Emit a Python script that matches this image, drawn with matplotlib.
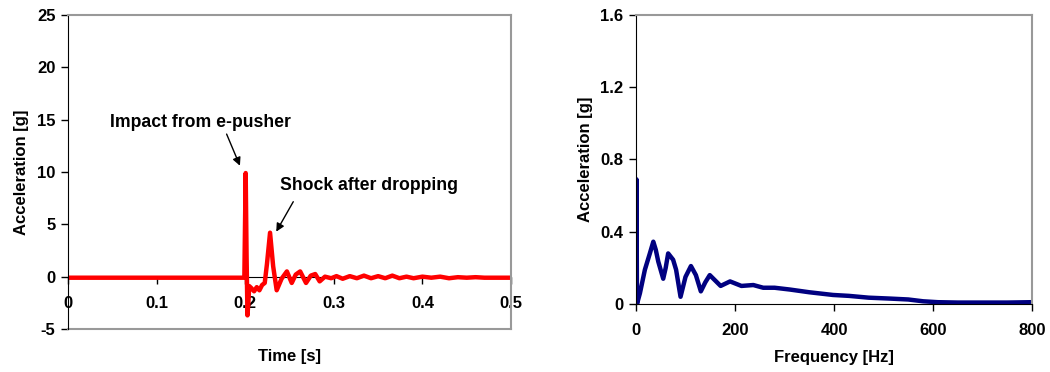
import matplotlib.pyplot as plt
import numpy as np

plt.rcParams['font.family'] = ['Liberation Sans', 'DejaVu Sans']
plt.rcParams['font.weight'] = 'bold'
plt.rcParams['axes.unicode_minus'] = False

# time signal
time_s = [0.0, 0.05, 0.1, 0.15, 0.199, 0.2005, 0.2015, 0.2025, 0.2035, 0.2045,
          0.207, 0.21, 0.213, 0.216, 0.219, 0.222, 0.2245, 0.228, 0.2315,
          0.2355, 0.241, 0.247, 0.2525, 0.257, 0.262, 0.2686, 0.274, 0.279,
          0.284, 0.29, 0.297, 0.303, 0.31, 0.318, 0.326, 0.334, 0.342, 0.35,
          0.358, 0.366, 0.374, 0.382, 0.39, 0.40, 0.41, 0.42, 0.43, 0.44,
          0.45, 0.46, 0.47, 0.48, 0.49, 0.5]
accel_g = [-0.1, -0.1, -0.1, -0.1, -0.1, 9.9, 2.0, -3.7, -2.5, -0.9,
           -1.1, -1.4, -1.0, -1.3, -0.8, -0.6, 1.2, 4.2, 1.0,
           -1.3, -0.2, 0.5, -0.6, 0.2, 0.5, -0.6, 0.1, 0.25,
           -0.45, 0.0, -0.15, 0.05, -0.2, 0.05, -0.15, 0.1, -0.15, 0.05,
           -0.15, 0.1, -0.15, 0.0, -0.15, 0.0, -0.1, 0.0, -0.15, -0.05,
           -0.1, -0.05, -0.1, -0.1, -0.1, -0.1]

# spectrum
freq_hz = [0, 1, 2, 8, 18, 28, 35, 40, 45, 55, 60, 65, 75, 81, 90, 100, 111,
           121, 131, 140, 149, 160, 171, 190, 213, 237, 257, 280, 311, 350,
           398, 430, 470, 513, 550, 580, 610, 650, 700, 750, 800]
amp_g = [0.0, 0.69, 0.0, 0.06, 0.19, 0.28, 0.345, 0.30, 0.235, 0.14, 0.20,
         0.28, 0.245, 0.19, 0.04, 0.15, 0.21, 0.16, 0.07, 0.12, 0.16, 0.13,
         0.10, 0.125, 0.10, 0.105, 0.09, 0.09, 0.08, 0.065, 0.05, 0.045,
         0.035, 0.03, 0.025, 0.015, 0.01, 0.008, 0.008, 0.008, 0.01]

fig = plt.figure(figsize=(10.5, 3.72), dpi=100)
ax1 = fig.add_axes([0.0648, 0.1156, 0.4219, 0.8441])
ax2 = fig.add_axes([0.6057, 0.1828, 0.3772, 0.7769])

frame = '#999999'
for ax in (ax1, ax2):
    for side in ('top', 'right'):
        ax.spines[side].set_color(frame)
        ax.spines[side].set_linewidth(1.5)
    ax.spines['left'].set_color('black')
    ax.spines['bottom'].set_color('black')
    ax.tick_params(direction='out', length=5, width=1, labelsize=12, pad=4)

# left panel
ax1.plot(time_s, accel_g, color='#ff0000', lw=3.2, solid_joinstyle='round')
ax1.set_xlim(0, 0.5)
ax1.set_ylim(-5, 25)
ax1.set_yticks([-5, 0, 5, 10, 15, 20, 25])
ax1.set_xticks([0, 0.1, 0.2, 0.3, 0.4, 0.5])
ax1.set_xticklabels(['0', '0.1', '0.2', '0.3', '0.4', '0.5'])
ax1.spines['bottom'].set_position(('data', 0))
ax1.spines['bottom'].set_zorder(1)
ax1.tick_params(axis='x', pad=9)
ax1.plot([0, 1], [0, 0], transform=ax1.transAxes, color=frame, lw=1.5,
         clip_on=False)
ax1.set_ylabel('Acceleration [g]', fontsize=12, fontweight='bold', labelpad=6)
ax1.set_xlabel('Time [s]', fontsize=12, fontweight='bold', labelpad=27)

ax1.annotate('Impact from e-pusher', xy=(0.194, 10.6), xytext=(0.047, 14.7),
             fontsize=12.7, fontweight='bold', va='center', ha='left',
             arrowprops=dict(arrowstyle='-|>', color='black', lw=1,
                             mutation_scale=12,
                             shrinkA=0, shrinkB=0, relpos=(0.64, 0.0)))
ax1.annotate('Shock after dropping', xy=(0.235, 4.3), xytext=(0.239, 8.7),
             fontsize=12.7, fontweight='bold', va='center', ha='left',
             arrowprops=dict(arrowstyle='-|>', color='black', lw=1,
                             mutation_scale=12,
                             shrinkA=4, shrinkB=0, relpos=(0.1, 0.0)))

# right panel
ax2.plot(freq_hz, amp_g, color='#000080', lw=3.2, solid_joinstyle='round')
ax2.set_xlim(0, 800)
ax2.set_ylim(0, 1.6)
ax2.set_yticks([0, 0.4, 0.8, 1.2, 1.6])
ax2.set_yticklabels(['0', '0.4', '0.8', '1.2', '1.6'])
ax2.set_xticks([0, 200, 400, 600, 800])
ax2.tick_params(axis='x', pad=9)
ax2.set_ylabel('Acceleration [g]', fontsize=12, fontweight='bold', labelpad=5)
ax2.set_xlabel('Frequency [Hz]', fontsize=12, fontweight='bold', labelpad=8)

fig.savefig('out.png', dpi=100)
